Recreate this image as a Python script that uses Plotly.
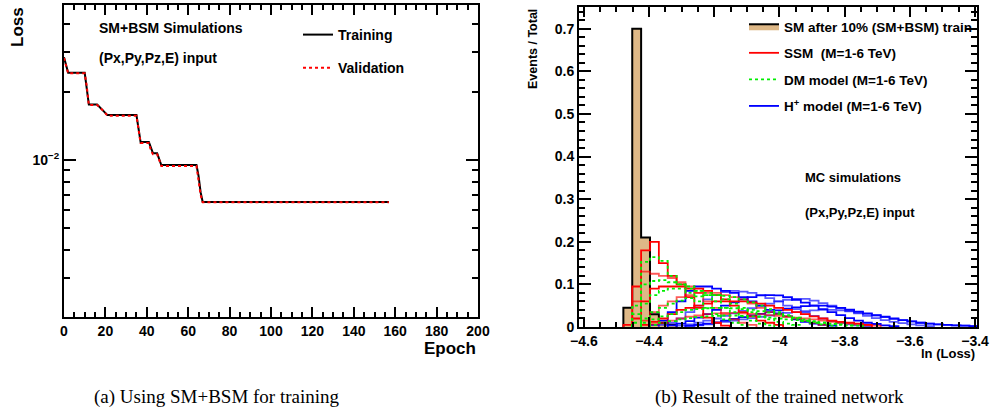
import numpy as np
import plotly.graph_objects as go

# ---------------- data: left panel (loss vs epoch) ----------------
train_epoch = [0, 1, 2, 10, 11, 12, 16, 19, 21, 35, 36, 37, 41, 42, 43, 45, 46, 47, 64, 65, 66, 67, 157]
train_loss = [0.0285, 0.026, 0.0243, 0.0243, 0.021, 0.0176, 0.0176, 0.0166, 0.0158, 0.0158, 0.0135, 0.0120,
              0.0120, 0.0112, 0.0107, 0.0107, 0.0101, 0.0095, 0.0095, 0.0085, 0.0072, 0.00652, 0.00652]
val_epoch = [0, 1, 2, 10, 11, 12, 16, 19, 21, 35, 36, 37, 41, 42, 43, 45, 46, 47, 64, 65, 66, 67, 157]
val_loss = [0.0283, 0.0258, 0.0242, 0.0242, 0.0212, 0.0175, 0.0175, 0.0165, 0.0157, 0.0157, 0.0133, 0.0119,
            0.0119, 0.0110, 0.0106, 0.0106, 0.0100, 0.0094, 0.0094, 0.0083, 0.0070, 0.00650, 0.00650]

# ---------------- data: right panel (ln(loss) histograms) ----------------
bin_edges = np.linspace(-4.615, -3.39, 46)

sm_start = 5
sm_vals = [0.045, 0.70, 0.21, 0.03, 0.01, 0.005]

ssm_start = [5, 6, 6, 7, 7, 8]
ssm_1 = [0.005, 0.095, 0.18, 0.20, 0.15, 0.12, 0.10, 0.07, 0.045, 0.022, 0.01, 0.003]
ssm_2 = [0.06, 0.13, 0.125, 0.12, 0.115, 0.105, 0.095, 0.08, 0.06, 0.045, 0.03, 0.018, 0.01, 0.005]
ssm_3 = [0.02, 0.06, 0.09, 0.095, 0.095, 0.095, 0.09, 0.09, 0.085, 0.075, 0.065, 0.05, 0.035, 0.025, 0.015, 0.01, 0.005]
ssm_4 = [0.015, 0.035, 0.05, 0.06, 0.07, 0.075, 0.08, 0.08, 0.08, 0.075, 0.07, 0.065, 0.055, 0.045, 0.035, 0.03,
         0.025, 0.02, 0.015, 0.01, 0.005]
ssm_5 = [0.005, 0.012, 0.02, 0.03, 0.04, 0.045, 0.05, 0.055, 0.06, 0.06, 0.06, 0.06, 0.058, 0.055, 0.05, 0.045,
         0.04, 0.035, 0.03, 0.025, 0.02, 0.015, 0.012, 0.01, 0.008, 0.005]
ssm_6 = [0.006, 0.01, 0.015, 0.02, 0.024, 0.027, 0.03, 0.032, 0.033, 0.033, 0.032, 0.031, 0.03, 0.028, 0.026, 0.024,
         0.022, 0.02, 0.018, 0.015, 0.012, 0.01, 0.008, 0.006, 0.004, 0.003]

dm_start = [6, 6, 6, 7, 7, 8]
dm_1 = [0.05, 0.153, 0.164, 0.155, 0.12, 0.10, 0.08, 0.06, 0.045, 0.03, 0.018, 0.01, 0.005]
dm_2 = [0.03, 0.10, 0.108, 0.11, 0.105, 0.10, 0.095, 0.085, 0.075, 0.06, 0.045, 0.035, 0.025, 0.015, 0.008, 0.004]
dm_3 = [0.01, 0.055, 0.075, 0.085, 0.09, 0.09, 0.09, 0.085, 0.08, 0.075, 0.065, 0.055, 0.045, 0.035, 0.025, 0.018,
        0.012, 0.008, 0.005]
dm_4 = [0.02, 0.035, 0.045, 0.055, 0.062, 0.068, 0.072, 0.075, 0.075, 0.073, 0.07, 0.065, 0.058, 0.05, 0.042, 0.035,
        0.028, 0.021, 0.015, 0.01, 0.006, 0.003]
dm_5 = [0.01, 0.018, 0.025, 0.03, 0.035, 0.04, 0.042, 0.044, 0.045, 0.045, 0.044, 0.042, 0.04, 0.037, 0.034, 0.03,
        0.026, 0.022, 0.018, 0.014, 0.01, 0.007, 0.005, 0.003]
dm_6 = [0.005, 0.01, 0.014, 0.018, 0.021, 0.023, 0.025, 0.026, 0.027, 0.027, 0.026, 0.025, 0.024, 0.022, 0.02,
        0.018, 0.016, 0.014, 0.012, 0.01, 0.008, 0.006, 0.004, 0.003]

hp_start = [8, 9, 10, 11, 12, 12]
hp_1 = [0.005, 0.015, 0.035, 0.06, 0.085, 0.095, 0.095, 0.09, 0.085, 0.08, 0.07, 0.06, 0.05, 0.04, 0.032, 0.025,
        0.018, 0.012, 0.008, 0.005, 0.003]
hp_2 = [0.005, 0.01, 0.02, 0.035, 0.05, 0.065, 0.075, 0.082, 0.085, 0.083, 0.08, 0.075, 0.068, 0.06, 0.05, 0.042,
        0.034, 0.026, 0.02, 0.014, 0.01, 0.006, 0.004, 0.002]
hp_3 = [0.004, 0.008, 0.014, 0.022, 0.03, 0.04, 0.05, 0.058, 0.065, 0.07, 0.074, 0.075, 0.074, 0.07, 0.064, 0.057,
        0.05, 0.042, 0.035, 0.028, 0.021, 0.015, 0.01, 0.007, 0.004, 0.002]
hp_4 = [0.003, 0.006, 0.01, 0.015, 0.02, 0.026, 0.032, 0.038, 0.044, 0.05, 0.055, 0.06, 0.064, 0.066, 0.066, 0.062,
        0.056, 0.05, 0.044, 0.038, 0.032, 0.026, 0.021, 0.016, 0.012, 0.009, 0.006, 0.004, 0.002]
hp_5 = [0.003, 0.005, 0.008, 0.011, 0.015, 0.019, 0.023, 0.027, 0.031, 0.035, 0.039, 0.043, 0.046, 0.049, 0.05,
        0.05, 0.048, 0.045, 0.041, 0.036, 0.032, 0.028, 0.024, 0.02, 0.016, 0.013, 0.01, 0.008, 0.006, 0.005,
        0.004, 0.003, 0.002]
hp_6 = [0.002, 0.004, 0.006, 0.009, 0.012, 0.015, 0.018, 0.021, 0.024, 0.027, 0.03, 0.033, 0.035, 0.037, 0.039,
        0.04, 0.04, 0.039, 0.037, 0.034, 0.031, 0.027, 0.023, 0.019, 0.016, 0.013, 0.01, 0.008, 0.006, 0.005,
        0.004, 0.003, 0.002]

# ---------------- styling ----------------
FONT = "Liberation Sans"
BOLD = 700


def step_xy(start, vals):
    xs = [bin_edges[start]]
    ys = [0.0]
    for i, v in enumerate(vals):
        xs.append(bin_edges[start + i])
        ys.append(v)
    xs.append(bin_edges[start + len(vals)])
    ys.append(vals[-1])
    xs.append(bin_edges[start + len(vals)])
    ys.append(0.0)
    return xs, ys


fig = go.Figure()

# Left panel curves
fig.add_trace(go.Scatter(x=train_epoch, y=train_loss, mode="lines", name="Training",
                         line=dict(color="black", width=2), xaxis="x", yaxis="y",
                         legend="legend", legendgroup="tr"))
fig.add_trace(go.Scatter(x=val_epoch, y=val_loss, mode="lines", name="Validation",
                         line=dict(color="#ff0000", width=2, dash="dot"), xaxis="x", yaxis="y",
                         legend="legend", legendgroup="va"))

# Right panel: SM filled histogram
sx, sy = step_xy(sm_start, sm_vals)
fig.add_trace(go.Scatter(x=sx, y=sy, mode="lines", line_shape="hv", fill="tozeroy",
                         fillcolor="#deb887", line=dict(color="black", width=2),
                         name="SM after 10% (SM+BSM) train", xaxis="x2", yaxis="y2",
                         legend="legend2", legendgroup="sm"))

blue_sets = [hp_1, hp_2, hp_3, hp_4, hp_5, hp_6]
red_sets = [ssm_1, ssm_2, ssm_3, ssm_4, ssm_5, ssm_6]
green_sets = [dm_1, dm_2, dm_3, dm_4, dm_5, dm_6]
alphas = [1.0, 0.65, 1.0, 0.65, 1.0, 0.65]

for i, vals in enumerate(blue_sets):
    x, y = step_xy(hp_start[i], vals)
    fig.add_trace(go.Scatter(x=x, y=y, mode="lines", line_shape="hv",
                             line=dict(color=f"rgba(0,0,255,{alphas[i]})", width=1.8),
                             name="H<sup>+</sup> model (M=1-6 TeV)", showlegend=False,
                             xaxis="x2", yaxis="y2", legend="legend2", legendgroup="hp"))
for i, vals in enumerate(red_sets):
    x, y = step_xy(ssm_start[i], vals)
    fig.add_trace(go.Scatter(x=x, y=y, mode="lines", line_shape="hv",
                             line=dict(color=f"rgba(255,0,0,{alphas[i]})", width=1.8),
                             name="SSM  (M=1-6 TeV)", showlegend=(i == 0),
                             xaxis="x2", yaxis="y2", legend="legend2", legendgroup="ssm"))
for i, vals in enumerate(green_sets):
    x, y = step_xy(dm_start[i], vals)
    fig.add_trace(go.Scatter(x=x, y=y, mode="lines", line_shape="hv",
                             line=dict(color="#00ee00", width=1.8, dash="dot"),
                             name="DM model (M=1-6 TeV)", showlegend=(i == 0),
                             xaxis="x2", yaxis="y2", legend="legend2", legendgroup="dm"))
# legend-only entry for H+ in right order
fig.add_trace(go.Scatter(x=[None], y=[None], mode="lines", line=dict(color="#0000ff", width=1.8),
                         name="H<sup>+</sup> model (M=1-6 TeV)", xaxis="x2", yaxis="y2",
                         legend="legend2", legendgroup="hpleg"))

tickfont = dict(family=FONT, size=14, color="black", weight=BOLD)
common = dict(showline=True, linecolor="black", linewidth=2, mirror="ticks", ticks="inside",
              tickcolor="black", tickwidth=1.5, showgrid=False, zeroline=False, tickfont=tickfont,
              automargin=False)

fig.update_layout(
    width=992, height=414, margin=dict(l=0, r=0, t=0, b=0),
    paper_bgcolor="white", plot_bgcolor="white",
    xaxis=dict(domain=[64 / 992, 478 / 992], range=[0, 200], tickmode="array",
               tickvals=list(range(0, 201, 20)), ticklen=10,
               minor=dict(tickmode="array", tickvals=[v for v in range(5, 200, 5) if v % 20], ticklen=5,
                          ticks="inside", tickcolor="black", tickwidth=1.5),
               anchor="y", **common),
    yaxis=dict(domain=[1 - 317 / 414, 1 - 5 / 414], type="log", range=[-2.695, -1.314],
               tickmode="array", tickvals=[0.01], ticktext=["10<sup>\u22122</sup>"], ticklen=12,
               minor=dict(tickmode="array",
                          tickvals=[0.002, 0.003, 0.004, 0.005, 0.006, 0.007, 0.008, 0.009, 0.02, 0.03, 0.04],
                          ticklen=6, ticks="inside", tickcolor="black", tickwidth=1.5),
               anchor="x", **common),
    xaxis2=dict(domain=[579 / 992, 977 / 992], range=[-4.615, -3.394], tickmode="array",
                tickvals=[-4.6, -4.4, -4.2, -4.0, -3.8, -3.6, -3.4],
                ticktext=["\u22124.6", "\u22124.4", "\u22124.2", "\u22124", "\u22123.8", "\u22123.6", "\u22123.4"],
                ticklen=10,
                minor=dict(tickmode="array",
                           tickvals=[-4.55, -4.5, -4.45, -4.35, -4.3, -4.25, -4.15, -4.1, -4.05, -3.95, -3.9,
                                     -3.85, -3.75, -3.7, -3.65, -3.55, -3.5, -3.45],
                           ticklen=5, ticks="inside", tickcolor="black", tickwidth=1.5),
                anchor="y2", **common),
    yaxis2=dict(domain=[1 - 327 / 414, 1 - 7 / 414], range=[0, 0.751], tickmode="array",
                tickvals=[0, 0.1, 0.2, 0.3, 0.4, 0.5, 0.6, 0.7],
                ticktext=["0", "0.1", "0.2", "0.3", "0.4", "0.5", "0.6", "0.7"], ticklen=12,
                minor=dict(tickmode="array",
                           tickvals=[round(0.02 * i, 2) for i in range(1, 38) if i % 5],
                           ticklen=6, ticks="inside", tickcolor="black", tickwidth=1.5),
                anchor="x2", **common),
    legend=dict(x=298 / 992, y=1 - 19 / 414, xanchor="left", yanchor="top", bgcolor="rgba(0,0,0,0)",
                font=dict(family=FONT, size=14, color="black", weight=BOLD), tracegroupgap=12,
                borderwidth=0),
    legend2=dict(x=744 / 992, y=1 - 11 / 414, xanchor="left", yanchor="top", bgcolor="rgba(0,0,0,0)",
                 font=dict(family=FONT, size=13.5, color="black", weight=BOLD), tracegroupgap=6,
                 borderwidth=0),
)

ann_font = dict(family=FONT, color="black", weight=BOLD)
annotations = [
    dict(text="Loss", x=17, y=5, textangle=-90, xanchor="center", yanchor="top", font=dict(size=17, **ann_font)),
    dict(text="Epoch", x=478, y=348, xanchor="right", yanchor="middle", font=dict(size=17, **ann_font)),
    dict(text="SM+BSM Simulations", x=97, y=28, xanchor="left", yanchor="middle", font=dict(size=14, **ann_font)),
    dict(text="(Px,Py,Pz,E) input", x=97, y=58, xanchor="left", yanchor="middle", font=dict(size=14, **ann_font)),
    dict(text="Events / Total", x=533, y=7, textangle=-90, xanchor="center", yanchor="top",
         font=dict(size=12.5, **ann_font)),
    dict(text="ln (Loss)", x=977, y=353, xanchor="right", yanchor="middle", font=dict(size=13, **ann_font)),
    dict(text="MC simulations", x=803, y=177, xanchor="left", yanchor="middle", font=dict(size=13, **ann_font)),
    dict(text="(Px,Py,Pz,E) input", x=803, y=213, xanchor="left", yanchor="middle", font=dict(size=13, **ann_font)),
    dict(text="(a) Using SM+BSM for training", x=217, y=397, xanchor="center", yanchor="middle",
         font=dict(family="Liberation Serif", size=19, color="black")),
    dict(text="(b) Result of the trained network", x=779, y=397, xanchor="center", yanchor="middle",
         font=dict(family="Liberation Serif", size=19, color="black")),
]
for a in annotations:
    a["x"] = a["x"] / 992
    a["y"] = 1 - a["y"] / 414
    a["xref"] = "paper"
    a["yref"] = "paper"
    a["showarrow"] = False
fig.update_layout(annotations=annotations)

fig.write_html("out.html", config={"displayModeBar": False},
               post_script="document.body.style.margin='0px';document.body.style.padding='0px';")
